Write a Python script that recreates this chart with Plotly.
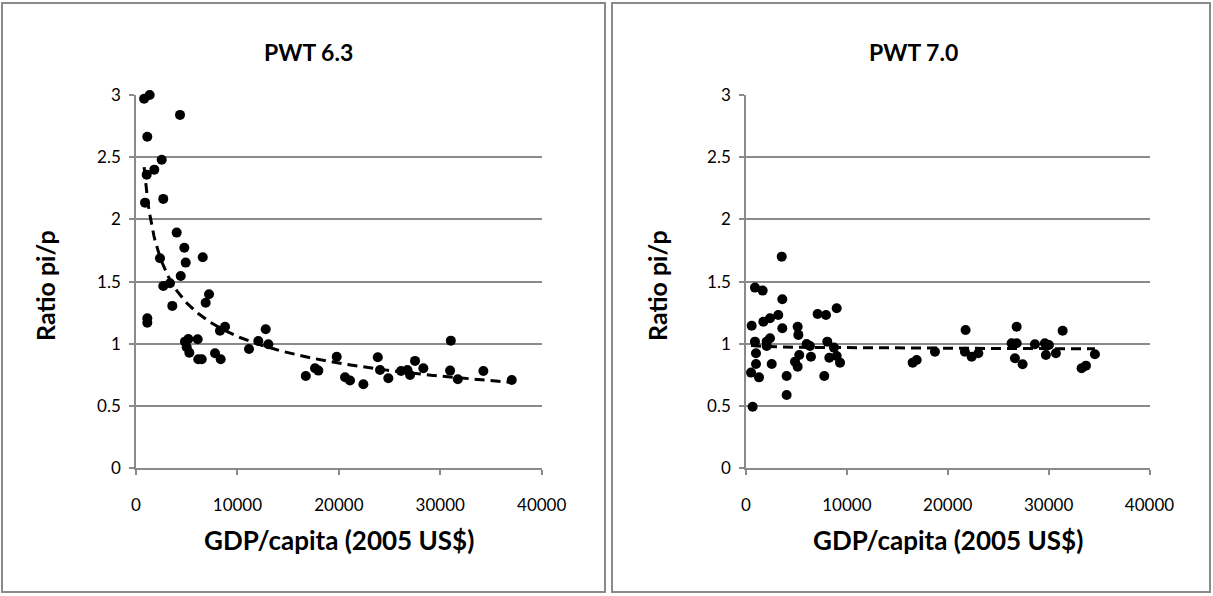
import numpy as np
import plotly.graph_objects as go

# ---- PWT 6.3 data (GDP per capita, ratio pi/p) ----
pwt63_gdp = [800, 1350, 4340, 1115, 2535, 1805, 1055, 890, 2690, 4010,
             4765, 6580, 2365, 4900, 4410, 2690, 3350, 7200, 6870, 3580,
             1115, 1115, 8780, 8280, 12790, 12060, 13050, 11140, 5160, 4830,
             6080, 5000, 5260, 6140, 6480, 7790, 8350, 16740, 17650, 17980,
             19790, 20610, 21100, 22420, 23840, 24060, 24880, 27510, 27020, 26760,
             28330, 31040, 30970, 31730, 34250, 37050, 26130]
pwt63_ratio = [2.97, 3.00, 2.84, 2.665, 2.48, 2.40, 2.36, 2.135, 2.165, 1.894,
               1.773, 1.696, 1.688, 1.653, 1.546, 1.465, 1.487, 1.399, 1.331, 1.305,
               1.206, 1.170, 1.138, 1.106, 1.117, 1.023, 0.997, 0.959, 1.039, 1.018,
               1.037, 0.973, 0.929, 0.876, 0.876, 0.924, 0.876, 0.742, 0.804, 0.785,
               0.897, 0.732, 0.705, 0.675, 0.892, 0.790, 0.723, 0.863, 0.750, 0.790,
               0.804, 1.026, 0.785, 0.715, 0.782, 0.710, 0.782]

# ---- PWT 7.0 data ----
pwt70_gdp = [3540, 890, 1650, 3600, 8990, 7100, 7930, 3200, 2380, 1720,
             560, 3600, 5120, 5190, 2380, 2050, 890, 990, 2050, 6010,
             6340, 8060, 8720, 5280, 6440, 8260, 8990, 9320, 4860, 5120,
             2550, 990, 500, 1290, 4030, 7760, 4030, 660, 16520, 16920,
             18730, 21770, 21700, 22370, 23030, 26830, 26330, 26830, 26660, 27420,
             28640, 29630, 30030, 29730, 30720, 31390, 33270, 33700, 34590]
pwt70_ratio = [1.701, 1.452, 1.428, 1.358, 1.286, 1.240, 1.232, 1.232, 1.206, 1.178,
               1.146, 1.125, 1.138, 1.072, 1.045, 1.018, 1.018, 0.924, 0.983, 0.999,
               0.983, 1.018, 0.970, 0.911, 0.897, 0.889, 0.903, 0.849, 0.857, 0.817,
               0.838, 0.838, 0.769, 0.731, 0.742, 0.742, 0.589, 0.495, 0.849, 0.870,
               0.937, 1.112, 0.937, 0.897, 0.924, 1.138, 1.005, 1.005, 0.884, 0.836,
               0.997, 1.005, 0.991, 0.911, 0.924, 1.106, 0.804, 0.825, 0.916]

titles = ["PWT 6.3", "PWT 7.0"]
x_title = "GDP/capita (2005 US$)"
y_title = "Ratio pi/p"
x_ticks = [0, 10000, 20000, 30000, 40000]
x_ticktext = ["0", "10000", "20000", "30000", "40000"]
y_ticks = [0, 0.5, 1, 1.5, 2, 2.5, 3]
y_ticktext = ["0", "0.5", "1", "1.5", "2", "2.5", "3"]


def power_fit(x, y):
    x = np.asarray(x, float)
    y = np.asarray(y, float)
    b, ln_a = np.polyfit(np.log(x), np.log(y), 1)
    xs = np.linspace(x.min(), x.max(), 300)
    return xs, np.exp(ln_a) * xs ** b


W, H = 1213, 596
FONT = "Lato"
GRAY = "#8a8a8a"

fig = go.Figure()

datasets = [(pwt63_gdp, pwt63_ratio), (pwt70_gdp, pwt70_ratio)]
x_domains = [[136 / W, 541.7 / W], [746 / W, 1149.5 / W]]
y_domain = [1 - 468.3 / H, 1 - 95 / H]

for i, (gx, gy) in enumerate(datasets):
    xa = "x" if i == 0 else "x2"
    ya = "y" if i == 0 else "y2"
    xs, ys = power_fit(gx, gy)
    fig.add_trace(go.Scatter(x=xs, y=ys, mode="lines", xaxis=xa, yaxis=ya,
                             line=dict(color="black", width=3, dash="10px,6px"),
                             showlegend=False))
    fig.add_trace(go.Scatter(x=gx, y=gy, mode="markers", xaxis=xa, yaxis=ya,
                             cliponaxis=False,
                             marker=dict(color="black", size=10), showlegend=False))

axis_common_x = dict(range=[0, 40000], tickvals=x_ticks, ticktext=x_ticktext,
                     showgrid=False, automargin=False,
                     showline=True, linecolor=GRAY, linewidth=1.5,
                     ticks="outside", ticklen=5, tickcolor=GRAY, tickwidth=1.5,
                     tickfont=dict(family=FONT, size=17, color="black"),
                     ticklabelstandoff=16, zeroline=False, fixedrange=True)
axis_common_y = dict(range=[0, 3], tickvals=y_ticks, ticktext=y_ticktext,
                     showgrid=True, automargin=False,
                     gridcolor=GRAY, gridwidth=1.5,
                     showline=True, linecolor=GRAY, linewidth=1.5,
                     ticks="outside", ticklen=5, tickcolor=GRAY, tickwidth=1.5,
                     tickfont=dict(family=FONT, size=17, color="black"),
                     ticklabelstandoff=5, zeroline=False, domain=y_domain,
                     fixedrange=True)

fig.update_layout(
    template="none",
    xaxis=dict(domain=x_domains[0], anchor="y", **axis_common_x),
    yaxis=dict(anchor="x", **axis_common_y),
    xaxis2=dict(domain=x_domains[1], anchor="y2", **axis_common_x),
    yaxis2=dict(anchor="x2", **axis_common_y),
    width=W, height=H, autosize=False,
    margin=dict(l=0, r=0, t=0, b=0, pad=0),
    paper_bgcolor="white", plot_bgcolor="white",
    showlegend=False,
)

# panel borders
panels = [(2 / W, 605 / W), (612 / W, 1210 / W)]
for (x0, x1) in panels:
    fig.add_shape(type="rect", xref="paper", yref="paper",
                  x0=x0, x1=x1, y0=1 - 592 / H, y1=1 - 3 / H,
                  line=dict(color=GRAY, width=2), fillcolor="rgba(0,0,0,0)",
                  layer="below")

centers_x = [(x_domains[0][0] + x_domains[0][1]) / 2, (x_domains[1][0] + x_domains[1][1]) / 2]
title_x = [308 / W, 913 / W]
ytitle_x = [45 / W, 657 / W]
for i in range(2):
    fig.add_annotation(text="<b>%s</b>" % titles[i], xref="paper", yref="paper",
                       x=title_x[i], y=1 - 52 / H, showarrow=False,
                       font=dict(family=FONT, size=23, color="black"),
                       xanchor="center", yanchor="middle")
    fig.add_annotation(text="<b>%s</b>" % x_title, xref="paper", yref="paper",
                       x=centers_x[i], y=1 - 540 / H, showarrow=False,
                       font=dict(family=FONT, size=26, color="black"),
                       xanchor="center", yanchor="middle")
    fig.add_annotation(text="<b>%s</b>" % y_title, xref="paper", yref="paper",
                       x=ytitle_x[i], y=1 - 286 / H, showarrow=False, textangle=-90,
                       font=dict(family=FONT, size=25, color="black"),
                       xanchor="center", yanchor="middle")

fig.write_html("out.html", config={"displayModeBar": False},
               post_script="document.body.style.margin='0';"
                           "document.body.style.overflow='hidden';")
